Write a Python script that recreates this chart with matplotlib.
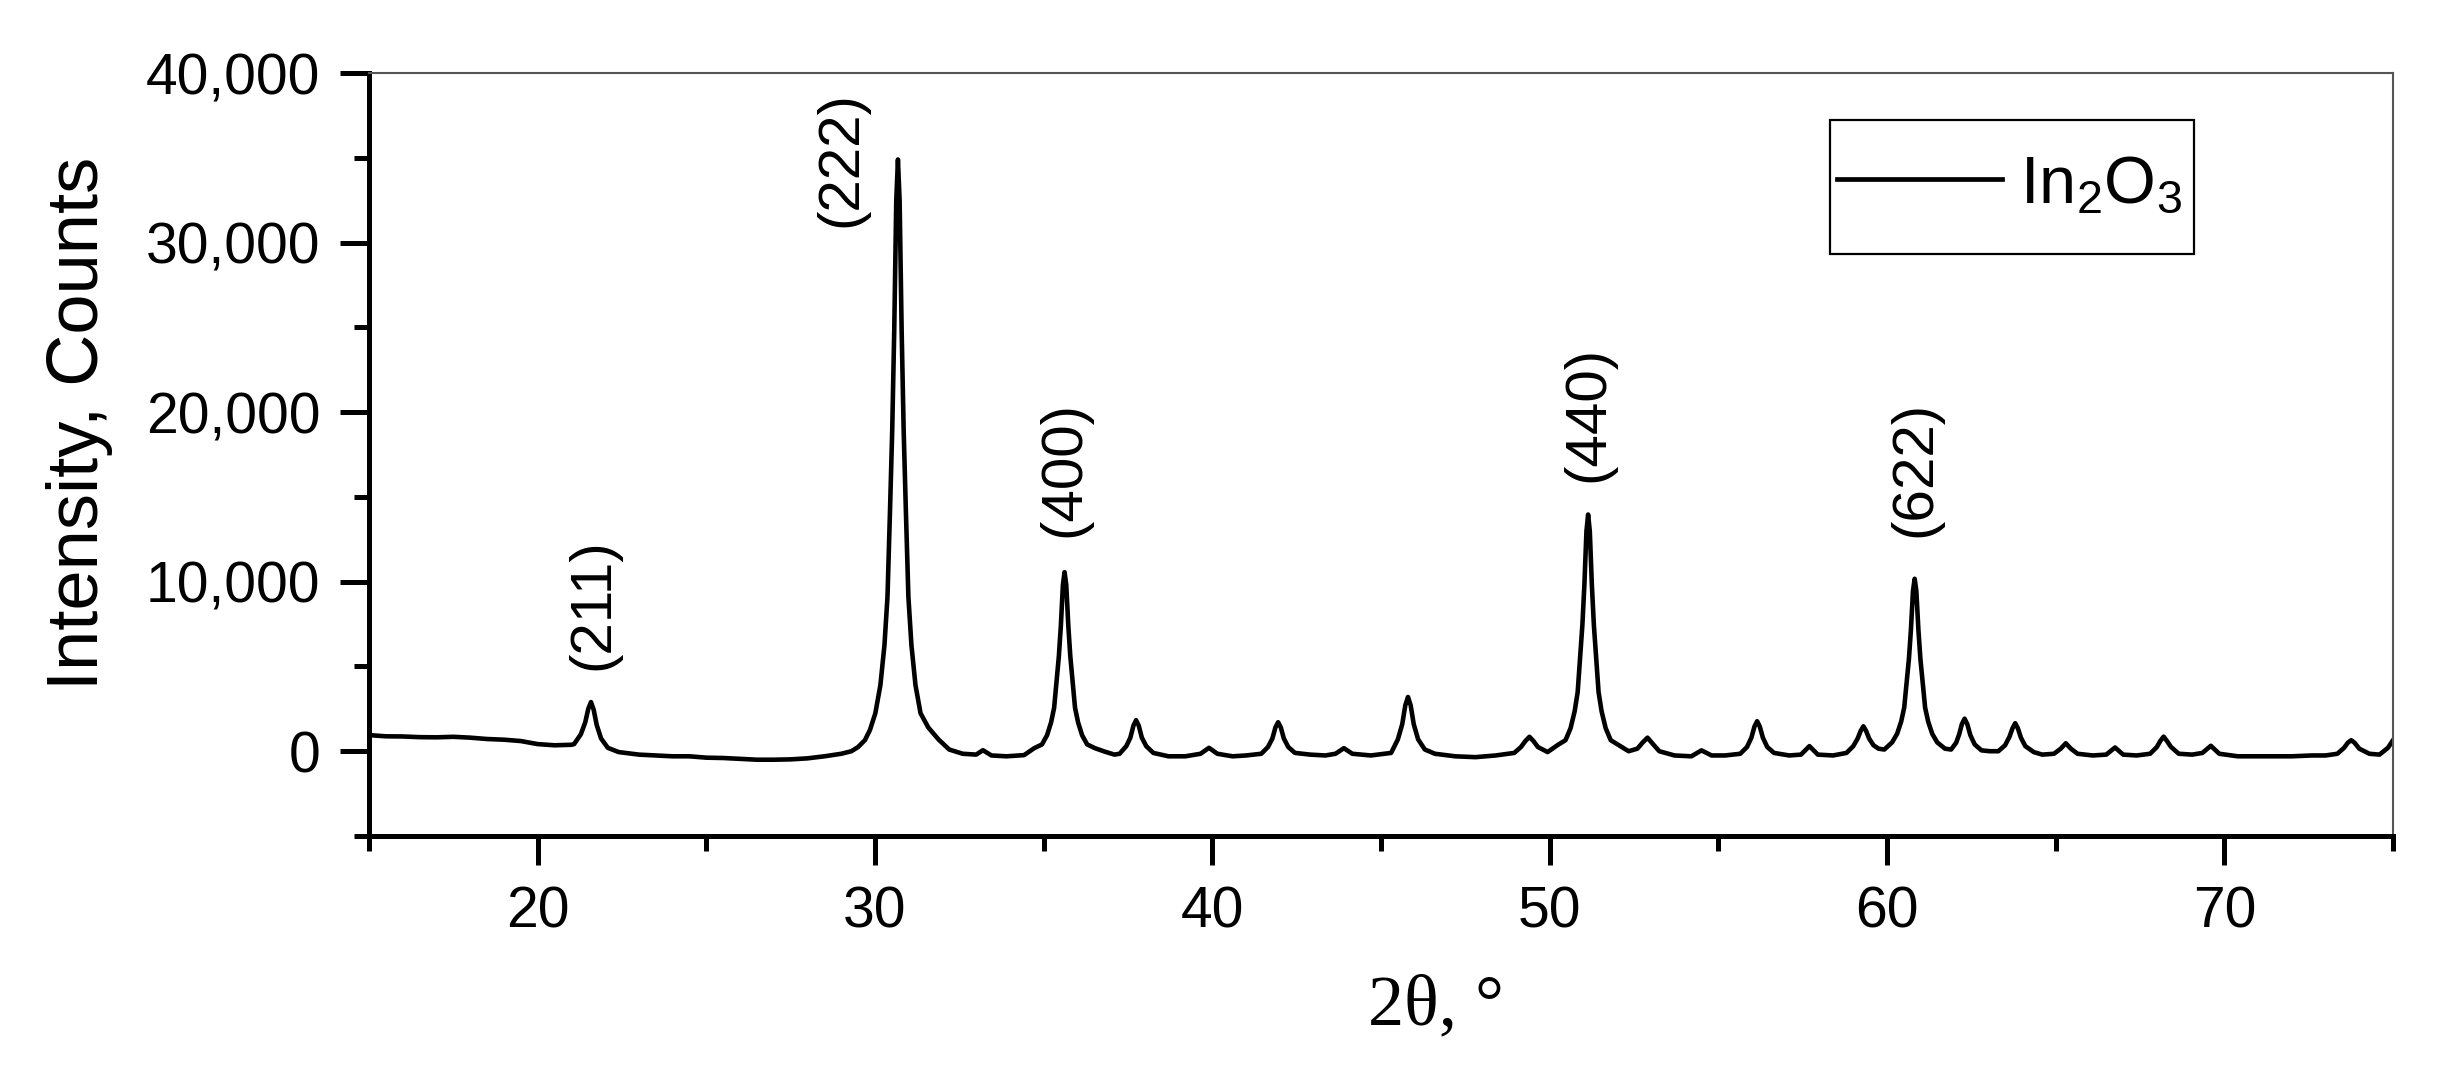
import matplotlib
matplotlib.use("Agg")
import matplotlib.pyplot as plt
from matplotlib.ticker import MultipleLocator, FuncFormatter
from matplotlib.patches import Rectangle

plt.rcParams['font.family'] = ['Liberation Sans', 'DejaVu Sans']
plt.rcParams['mathtext.default'] = 'regular'

# XRD pattern of In2O3 (2theta in degrees, counts)
two_theta = [
    15.0, 15.5, 16.0, 16.5, 17.0, 17.5, 18.0, 18.5, 19.0, 19.5, 20.0, 20.5, 21.0,
    21.08, 21.28, 21.41, 21.50, 21.58, 21.66, 21.75, 21.88, 22.08, 22.4,
    23.0, 23.5, 24.0, 24.5, 25.0, 25.5, 26.0, 26.5, 27.0, 27.5, 28.0, 28.5,
    29.0, 29.3, 29.5, 29.7, 29.85, 30.01, 30.16, 30.28, 30.37, 30.445, 30.51, 30.57,
    30.63, 30.68, 30.73, 30.79, 30.85, 30.915, 30.99, 31.08, 31.2, 31.35,
    31.58, 31.88, 32.2, 32.6, 33.0, 33.2, 33.45, 33.9, 34.42,
    34.72, 34.95, 35.1, 35.22, 35.31, 35.385, 35.45, 35.51, 35.57, 35.62,
    35.67, 35.73, 35.79, 35.855, 35.93, 36.02, 36.14, 36.29, 36.52, 36.82,
    37.1, 37.25, 37.45, 37.57, 37.66, 37.74, 37.82, 37.91, 38.04, 38.25,
    38.7, 39.2, 39.65, 39.9, 40.15, 40.6, 41.0, 41.45, 41.65, 41.78, 41.87,
    41.95, 42.03, 42.12, 42.25, 42.45, 42.9, 43.35, 43.65, 43.9, 44.15, 44.7,
    45.3, 45.5, 45.63, 45.72, 45.8, 45.88, 45.97, 46.1, 46.3, 46.6, 47.2,
    47.8, 48.4, 48.95, 49.15, 49.28, 49.4, 49.52, 49.65, 49.94,
    50.24, 50.47, 50.62, 50.74, 50.83, 50.905, 50.97, 51.03, 51.09, 51.14,
    51.19, 51.25, 51.31, 51.375, 51.45, 51.54, 51.66, 51.81, 52.04, 52.34,
    52.6, 52.75, 52.9, 53.05, 53.25, 53.7, 54.2, 54.5, 54.8, 55.2, 55.65,
    55.85, 55.98, 56.07, 56.15, 56.23, 56.32, 56.45, 56.65, 57.1, 57.45,
    57.7, 57.95, 58.4, 58.8, 59.0, 59.13, 59.22, 59.3, 59.38, 59.47, 59.6,
    59.75, 59.92, 60.15, 60.3, 60.42, 60.51, 60.585, 60.65, 60.71, 60.77,
    60.82, 60.87, 60.93, 60.99, 61.055, 61.13, 61.22, 61.34, 61.49, 61.72,
    61.9, 62.05, 62.14, 62.22, 62.3, 62.38, 62.47, 62.6, 62.8, 63.05, 63.3,
    63.5, 63.63, 63.72, 63.8, 63.88, 63.97, 64.1, 64.35, 64.6, 64.95, 65.15,
    65.3, 65.45, 65.65, 66.1, 66.5, 66.76, 67.0, 67.4, 67.8, 68.0, 68.1,
    68.2, 68.3, 68.42, 68.65, 69.05, 69.35, 69.6, 69.85, 70.4, 71.0, 71.5,
    72.0, 72.6, 73.0, 73.35, 73.55, 73.66, 73.76, 73.86, 74.0, 74.3, 74.6,
    74.85, 75.0,
]
counts = [
    950, 880, 870, 830, 820, 850, 800, 720, 680, 600, 420, 350, 380,
    420, 1000, 1700, 2500, 2900, 2450, 1550, 750, 200, -50,
    -200, -250, -300, -300, -380, -400, -450, -500, -500, -480, -420, -300,
    -150, 0, 250, 650, 1250, 2240, 3900, 6250, 9100, 14200, 18900, 24800,
    32450, 34900, 32450, 24800, 18900, 14200, 9100, 6250, 3900, 2240,
    1400, 700, 100, -150, -200, 60, -250, -300, -230,
    180, 400, 940, 1700, 2560, 4180, 5590, 7420, 9800, 10560,
    9800, 7420, 5590, 4180, 2560, 1700, 940, 400, 180, -30,
    -200, -150, 300, 800, 1500, 1830, 1500, 800, 300, -100,
    -300, -300, -150, 200, -150, -300, -250, -150, 250, 750, 1400,
    1710, 1400, 750, 250, -100, -200, -250, -150, 180, -150, -250,
    -100, 700, 1600, 2700, 3200, 2700, 1600, 700, 100, -150, -300,
    -350, -250, -100, 250, 600, 850, 600, 250, -50,
    370, 650, 1360, 2350, 3480, 5600, 7450, 9850, 12970, 13960,
    12970, 9850, 7450, 5600, 3480, 2350, 1360, 650, 370, 0,
    150, 500, 800, 450, 0, -250, -300, 50, -250, -250, -150,
    250, 800, 1450, 1770, 1450, 800, 250, -100, -250, -200,
    300, -200, -250, -100, 300, 750, 1200, 1470, 1200, 750, 350,
    150, 100, 520, 1030, 1750, 2570, 4110, 5450, 7190, 9450,
    10170, 9450, 7190, 5450, 4110, 2570, 1750, 1030, 520, 150,
    100, 500, 1000, 1600, 1920, 1600, 950, 400, 50, 0, 0,
    350, 850, 1350, 1650, 1350, 800, 300, -50, -200, -150, 150,
    470, 150, -150, -250, -200, 220, -200, -250, -150, 250, 600,
    860, 600, 250, -150, -200, -100, 320, -150, -300, -300, -300,
    -300, -250, -250, -150, 200, 500, 650, 500, 150, -150, -200,
    200, 650,
]

# peak labels: (hkl), x of label centre, y of label bottom
hkl_labels = ['(211)', '(222)', '(400)', '(440)', '(622)']
label_x = [21.65, 29.0, 35.62, 51.14, 60.85]
label_y = [4780, 30900, 12650, 15900, 12650]

y_ticks = [0, 10000, 20000, 30000, 40000]
x_ticks = [20, 30, 40, 50, 60, 70]

fig = plt.figure(figsize=(24.4, 10.66), dpi=100)
ax = fig.add_axes([369 / 2440, 1 - 836 / 1066, 2024 / 2440, 763 / 1066])

ax.plot(two_theta, counts, color='black', linewidth=3.3, label='In$_2$O$_3$')

for txt, lx, ly in zip(hkl_labels, label_x, label_y):
    ax.text(lx, ly, txt, rotation=90, ha='center', va='bottom', fontsize=42)

ax.set_xlim(15, 75)
ax.set_ylim(-5000, 40000)
ax.set_xticks(x_ticks)
ax.set_yticks(y_ticks)
ax.xaxis.set_minor_locator(MultipleLocator(5))
ax.yaxis.set_minor_locator(MultipleLocator(5000))
ax.yaxis.set_major_formatter(FuncFormatter(lambda v, p: f"{int(v):,}"))

ax.tick_params(which='major', direction='out', length=21, width=3.6, labelsize=41)
ax.tick_params(which='minor', direction='out', length=11, width=3.6)
ax.tick_params(axis='y', which='major', pad=14)
ax.tick_params(axis='x', which='major', pad=15)

for side in ['left', 'bottom']:
    ax.spines[side].set_linewidth(3.6)
for side in ['top', 'right']:
    ax.spines[side].set_linewidth(1.5)
    ax.spines[side].set_color('#555555')

ax.set_ylabel('Intensity, Counts', fontsize=52)
ax.yaxis.set_label_coords(-0.1265, 0.541)
ax.set_xlabel('2θ, °', fontsize=52, family=['Liberation Serif', 'DejaVu Serif'])
ax.xaxis.set_label_coords(0.527, -0.181)

# legend without frame, box drawn separately so its shape matches
leg = ax.legend(loc='center left', bbox_to_anchor=(0.7253, 0.853), borderaxespad=0,
                fontsize=48, handlelength=2.47, handletextpad=0.27, borderpad=0,
                frameon=False)
leg.get_lines()[0].set_linewidth(3.4)
ax.add_patch(Rectangle((0.7218, 0.7628), 0.1799, 0.1756, transform=ax.transAxes,
                       fill=False, edgecolor='black', linewidth=1.6, zorder=5))

fig.savefig('out.png', dpi=100)
